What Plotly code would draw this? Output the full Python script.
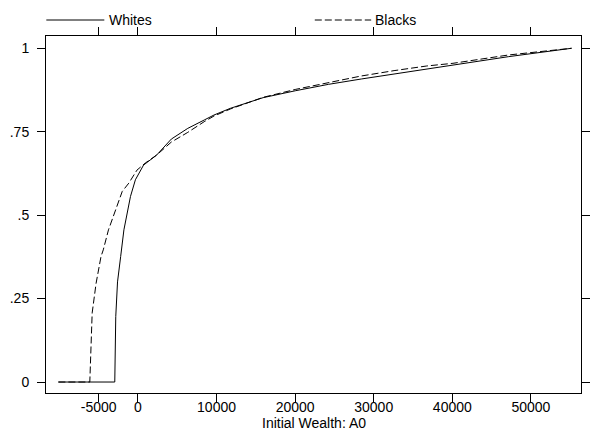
import plotly.graph_objects as go

# Data (cumulative distribution of initial wealth)
whites_x = [-10125, -2950, -2825, -2600, -2200, -1787, -950, -325, 712, 2375,
            4250, 6337, 8425, 9675, 11750, 13837, 15925, 20087, 24250, 28425,
            32587, 36750, 40087, 47175, 55175]
whites_y = [0, 0, 0.196, 0.30, 0.376, 0.456, 0.556, 0.606, 0.650, 0.68,
            0.728, 0.760, 0.785, 0.80, 0.82, 0.835, 0.852, 0.873, 0.892, 0.908,
            0.923, 0.937, 0.948, 0.975, 1.0]

blacks_x = [-10125, -6125, -5825, -5325, -4700, -4412, -3750, -2825, -2000, -1162,
            -125, 925, 2375, 4250, 6337, 8425, 9675, 11750, 13837, 15925,
            20087, 24250, 28425, 32587, 36750, 40087, 47175, 55175]
blacks_y = [0, 0, 0.207, 0.296, 0.376, 0.396, 0.456, 0.516, 0.571, 0.596,
            0.635, 0.656, 0.68, 0.719, 0.748, 0.780, 0.797, 0.818, 0.835, 0.853,
            0.877, 0.898, 0.917, 0.933, 0.947, 0.955, 0.98, 1.0]

x_ticks = [-5000, 0, 10000, 20000, 30000, 40000, 50000]
x_ticklabels = ["-5000", "0", "10000", "20000", "30000", "40000", "50000"]
y_ticks = [0, 0.25, 0.5, 0.75, 1]
y_ticklabels = ["0", ".25", ".5", ".75", "1"]

FONT = "Liberation Sans, Arial, sans-serif"

fig = go.Figure()
fig.add_trace(go.Scatter(x=whites_x, y=whites_y, mode="lines", name="Whites",
                         line=dict(color="black", width=1)))
fig.add_trace(go.Scatter(x=blacks_x, y=blacks_y, mode="lines", name="Blacks",
                         line=dict(color="black", width=1, dash="7px,3px")))

# Stata-style legend above the plot
legend_y = 1.0448
fig.add_shape(type="line", xref="paper", yref="paper", x0=0.0006, x1=0.109,
              y0=legend_y, y1=legend_y, line=dict(color="black", width=1))
fig.add_shape(type="line", xref="paper", yref="paper", x0=0.5024, x1=0.6078,
              y0=legend_y, y1=legend_y, line=dict(color="black", width=1, dash="7px,3px"))
fig.add_annotation(text="Whites", xref="paper", yref="paper", x=0.1131, y=legend_y,
                   xanchor="left", yanchor="middle", showarrow=False,
                   font=dict(family=FONT, size=14, color="black"))
fig.add_annotation(text="Blacks", xref="paper", yref="paper", x=0.611, y=legend_y,
                   xanchor="left", yanchor="middle", showarrow=False,
                   font=dict(family=FONT, size=14, color="black"))
fig.add_annotation(text="Initial Wealth: A0", xref="paper", yref="paper", x=0.5, y=0,
                   xanchor="center", yanchor="middle", yshift=-30, showarrow=False,
                   font=dict(family=FONT, size=14, color="black"))

axis_common = dict(showgrid=False, zeroline=False, showline=True, linecolor="black",
                   linewidth=1, mirror="ticks", ticks="outside", ticklen=8,
                   tickcolor="black", tickwidth=1,
                   tickfont=dict(family=FONT, size=14, color="black"))

fig.update_layout(
    width=594, height=432,
    margin=dict(l=46, r=4, t=36, b=39),
    paper_bgcolor="white", plot_bgcolor="white",
    showlegend=False,
    xaxis=dict(range=[-11700, 56375], tickvals=x_ticks, ticktext=x_ticklabels,
               ticklabelstandoff=-7, **axis_common),
    yaxis=dict(range=[-0.0329, 1.0368], tickvals=y_ticks, ticktext=y_ticklabels,
               ticklabelstandoff=5, **axis_common),
)

fig.write_html("out.html")
